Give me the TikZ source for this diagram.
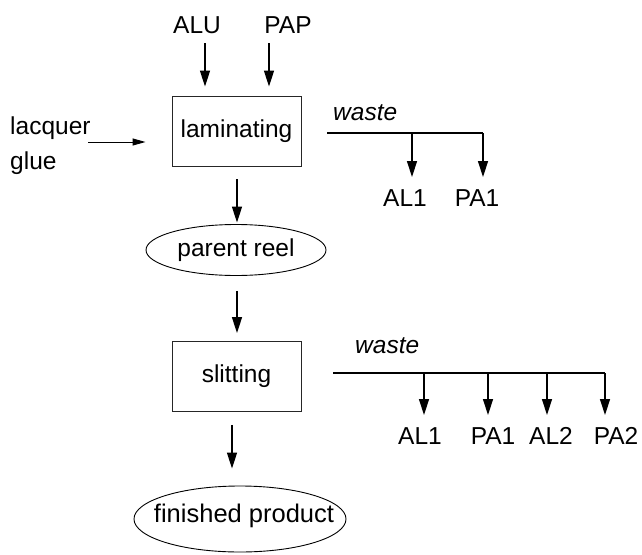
\documentclass[tikz,border=0pt]{standalone}
\usepackage{fontspec}
\setmainfont{Liberation Sans}
\usetikzlibrary{arrows.meta,shapes.geometric,calc}
\begin{document}
\begin{tikzpicture}[x=1pt,y=-1pt,
  lbl/.style={font=\fontsize{24.5}{35}\selectfont, inner sep=0pt},
  wastelbl/.style={font=\fontsize{24.5}{28}\selectfont\itshape, inner sep=0pt},
  procbox/.style={draw=black!85, line width=0.9pt, minimum width=129pt,
    minimum height=70pt, inner sep=0pt, font=\fontsize{24.5}{28}\selectfont},
  store/.style={ellipse, draw, line width=0.9pt, inner sep=0pt,
    font=\fontsize{24.5}{28}\selectfont},
  flow/.style={line width=1.4pt, -{Triangle[length=16pt,width=10pt]}},
  feed/.style={line width=1pt, -{Triangle[length=13pt,width=7pt]}},
  wasteline/.style={line width=1.8pt}
]
\useasboundingbox (0,0) rectangle (642,554);

% raw materials and laminating
\node[lbl, anchor=base] (alu) at (197,33) {ALU};
\node[lbl, anchor=base] (pap) at (288,33) {PAP};
\node[procbox] (lam) at (236.5,131) {laminating};
\coordinate (aluin) at (205,43);
\coordinate (papin) at (269,43);
\draw[flow, shorten >=9pt] (aluin) -- (aluin |- lam.north);
\draw[flow, shorten >=9pt] (papin) -- (papin |- lam.north);

\node[lbl, align=left, anchor=north west] (glue) at (10,117) {lacquer\\glue};
\coordinate (gluein) at (88,142);
\draw[feed, shorten >=26pt] (gluein) -- (gluein -| lam.west);

% laminating waste
\node[wastelbl, anchor=base west] (waste1) at (333,120) {waste};
\coordinate (wa) at (327,133);
\coordinate (wb) at (412,133);
\coordinate (wc) at (483,133);
\draw[wasteline] (wa) -- (wc);
\node[lbl, anchor=north] (al1a) at (405,189) {AL1};
\node[lbl, anchor=north] (pa1a) at (477,189) {PA1};
\draw[flow, shorten >=12pt] (wb) -- (wb |- al1a.north);
\draw[flow, shorten >=12pt] (wc) -- (wc |- pa1a.north);

% parent reel and slitting
\node[store, minimum width=180pt, minimum height=51pt] (reel) at (236,250) {parent reel};
\node[procbox] (slit) at (236.5,376.5) {slitting};
\draw[flow, shorten <=13pt, shorten >=1.5pt] ($(lam.south)+(0.5,0)$) -- ($(reel.north)+(1,0)$);
\draw[flow, shorten <=15pt, shorten >=8pt] ($(reel.south)+(1,0)$) -- ($(slit.north)+(0.5,0)$);

% slitting waste
\node[wastelbl, anchor=base west] (waste2) at (355,353) {waste};
\coordinate (sa) at (333,373);
\coordinate (sb) at (424,373);
\coordinate (sc) at (488,373);
\coordinate (sd) at (547,373);
\coordinate (se) at (605,373);
\draw[wasteline] (sa) -- (se);
\node[lbl, anchor=north] (al1b) at (420,427) {AL1};
\node[lbl, anchor=north] (pa1b) at (493,427) {PA1};
\node[lbl, anchor=north] (al2b) at (551,427) {AL2};
\node[lbl, anchor=north] (pa2b) at (616,427) {PA2};
\draw[flow, shorten >=12pt] (sb) -- (sb |- al1b.north);
\draw[flow, shorten >=12pt] (sc) -- (sc |- pa1b.north);
\draw[flow, shorten >=12pt] (sd) -- (sd |- al2b.north);
\draw[flow, shorten >=12pt] (se) -- (se |- pa2b.north);

% finished product: outline and its text, the text running up to the right edge
\node[store, minimum width=212pt, minimum height=66pt] (prod) at (240,519) {};
\node[lbl, font=\fontsize{25.5}{28}\selectfont] (prodtext) at (244,516) {finished product};
\draw[flow, shorten <=13pt, shorten >=17pt] ($(slit.south)+(-4.5,0)$) -- ($(prod.north)+(-8,0)$);
\end{tikzpicture}
\end{document}
